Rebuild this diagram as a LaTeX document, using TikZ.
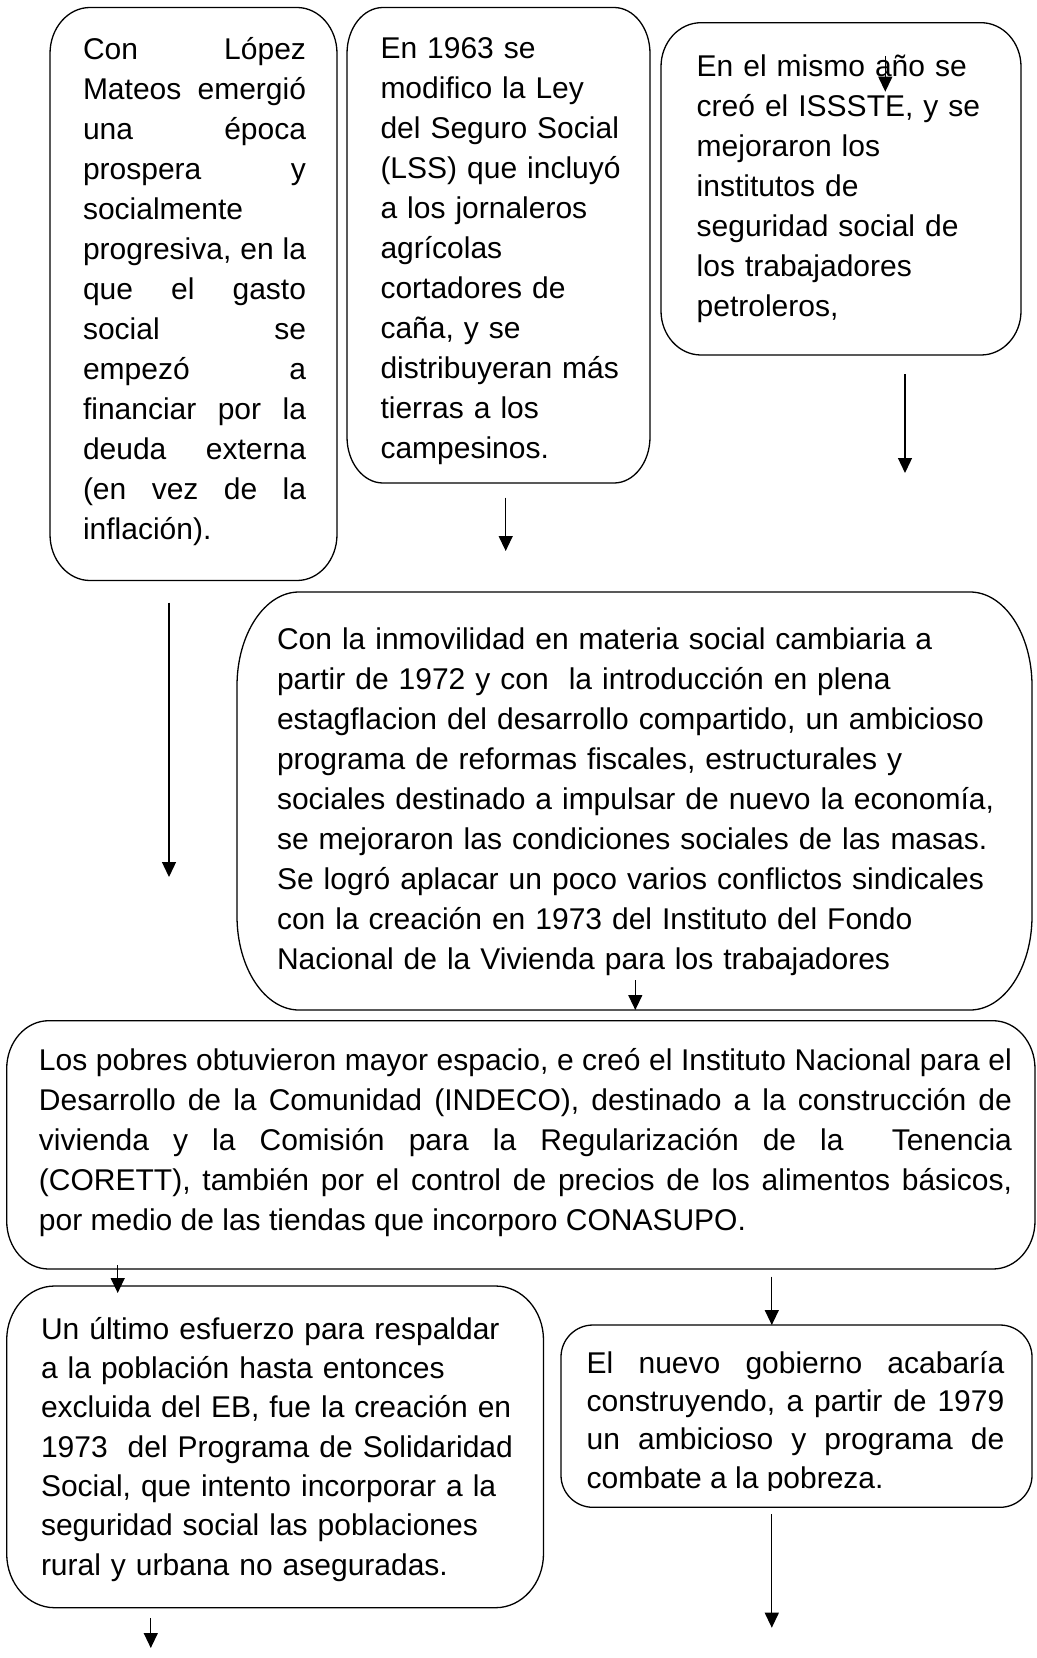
\documentclass[tikz,border=0pt]{standalone}
\usepackage{fontspec}
\setmainfont{Liberation Sans}
\usetikzlibrary{arrows.meta,fit}
\tolerance=10000
\hbadness=10000
% outline of a box with elliptical corners: node, x radius, y radius
\newcommand\erbox[3]{%
  \draw[boxline] ([xshift=#2]#1.north west) -- ([xshift=-#2]#1.north east)
    arc[start angle=90,end angle=0,x radius=#2,y radius=#3]
    -- ([yshift=#3]#1.south east)
    arc[start angle=0,end angle=-90,x radius=#2,y radius=#3]
    -- ([xshift=#2]#1.south west)
    arc[start angle=270,end angle=180,x radius=#2,y radius=#3]
    -- ([yshift=-#3]#1.north west)
    arc[start angle=180,end angle=90,x radius=#2,y radius=#3] -- cycle;}
\begin{document}
\begin{tikzpicture}[x=0.5pt,y=-0.5pt,
  box/.style={inner sep=0pt, outer sep=0pt},
  boxline/.style={draw=black, line width=0.65pt},
  txt/.style={inner sep=0pt, outer sep=0pt, anchor=base west,
    font=\fontsize{15pt}{20pt}\selectfont},
  jtxt/.style={txt, align=justify},
  ltxt/.style={txt, align=left},
  arr/.style={line width=0.65pt, -{Triangle[length=7.5pt,width=7pt]}}]
\useasboundingbox (0,0) rectangle (1037,1658);

% boxes
\node[box, fit={(50,7.5) (337,580.5)}] (b1) {};
\node[box, fit={(347,7.5) (650,483)}] (b2) {};
\node[box, fit={(661,22.7) (1021,355)}] (b3) {};
\node[box, fit={(237,592) (1032,1010)}] (b4) {};
\node[box, fit={(6.7,1020.7) (1035,1269)}] (b5) {};
\node[box, fit={(6.7,1286) (543.5,1607.7)}] (b6) {};
\node[box, fit={(561,1325) (1032,1507.3)}] (b7) {};
\erbox{b1}{20pt}{23pt}
\erbox{b2}{18pt}{23pt}
\erbox{b3}{20pt}{22pt}
\erbox{b4}{31pt}{47pt}
\erbox{b5}{21pt}{24pt}
\erbox{b6}{24pt}{27pt}
\erbox{b7}{16pt}{16pt}

% texts
\node[jtxt, text width=111.5pt] (t1) at (83,59.3) {Con López\linebreak
Mateos emergió\linebreak
una época\linebreak
prospera y\linebreak
socialmente\linebreak
progresiva, en la\linebreak
que el gasto\linebreak
social se\linebreak
empezó a\linebreak
financiar por la\linebreak
deuda externa\linebreak
(en vez de la\linebreak
inflación).};

\node[ltxt, text width=130pt] (t2) at (380.5,58.5) {En 1963 se\\
modifico la Ley\\
del Seguro Social\\
(LSS) que incluyó\\
a los jornaleros\\
agrícolas\\
cortadores de\\
caña, y se\\
distribuyeran más\\
tierras a los\\
campesinos.};

\node[ltxt, text width=150pt] (t3) at (696.7,76.3) {En el mismo año se\\
creó el ISSSTE, y se\\
mejoraron los\\
institutos de\\
seguridad social de\\
los trabajadores\\
petroleros,};

\node[ltxt, text width=370pt] (t4) at (277,649.3) {Con la inmovilidad en materia social cambiaria a\\
partir de 1972 y con \ la introducción en plena\\
estagflacion del desarrollo compartido, un ambicioso\\
programa de reformas fiscales, estructurales y\\
sociales destinado a impulsar de nuevo la economía,\\
se mejoraron las condiciones sociales de las masas.\\
Se logró aplacar un poco varios conflictos sindicales\\
con la creación en 1973 del Instituto del Fondo\\
Nacional de la Vivienda para los trabajadores};

\node[jtxt, text width=486.5pt] (t5) at (39,1070) {Los pobres obtuvieron mayor espacio, e creó el Instituto Nacional para el\linebreak
Desarrollo de la Comunidad (INDECO), destinado a la construcción de\linebreak
vivienda y la Comisión para la Regularización de la \ Tenencia\linebreak
(CORETT), también por el control de precios de los alimentos básicos,\linebreak
por medio de las tiendas que incorporo CONASUPO.};

\node[ltxt, text width=250pt, font=\fontsize{15pt}{19.65pt}\selectfont] (t6) at (41,1339.3) {Un último esfuerzo para respaldar\\
a la población hasta entonces\\
excluida del EB, fue la creación en\\
1973 \ del Programa de Solidaridad\\
Social, que intento incorporar a la\\
seguridad social las poblaciones\\
rural y urbana no aseguradas.};

\begin{scope}
\clip (561,1325) rectangle (1032,1490.5);
\node[jtxt, text width=208.8pt, font=\fontsize{15pt}{19.15pt}\selectfont] (t7) at (586.7,1373.3) {El nuevo gobierno acabaría\linebreak
construyendo, a partir de 1979\linebreak
un ambicioso y programa de\linebreak
combate a la pobreza.};
\end{scope}

% arrows
\coordinate (a1s) at (885.3,56);   \coordinate (a1e) at (885.3,91.7);
\coordinate (a2s) at (905,374);    \coordinate (a2e) at (905,473);
\coordinate (a3s) at (505.7,497.5);\coordinate (a3e) at (505.7,551);
\coordinate (a4s) at (169,602.5);  \coordinate (a4e) at (169,877);
\coordinate (a5s) at (635.3,980);
\coordinate (a6s) at (117.7,1265); \coordinate (a6e) at (117.7,1293);
\coordinate (a7s) at (771.8,1276.7);
\coordinate (a8s) at (771.8,1514); \coordinate (a8e) at (771.8,1627.7);
\coordinate (a9s) at (150.8,1618); \coordinate (a9e) at (150.8,1648);

\draw[arr] (a1s) -- (a1e);
\draw[arr] (a2s) -- (a2e);
\draw[arr] (a3s) -- (a3e);
\draw[arr] (a4s) -- (a4e);
\draw[arr] (a5s) -- (a5s |- b4.south);
\draw[arr] (a6s) -- (a6e);
\draw[arr] (a7s) -- (a7s |- b7.north);
\draw[arr] (a8s) -- (a8e);
\draw[arr] (a9s) -- (a9e);
\end{tikzpicture}
\end{document}
